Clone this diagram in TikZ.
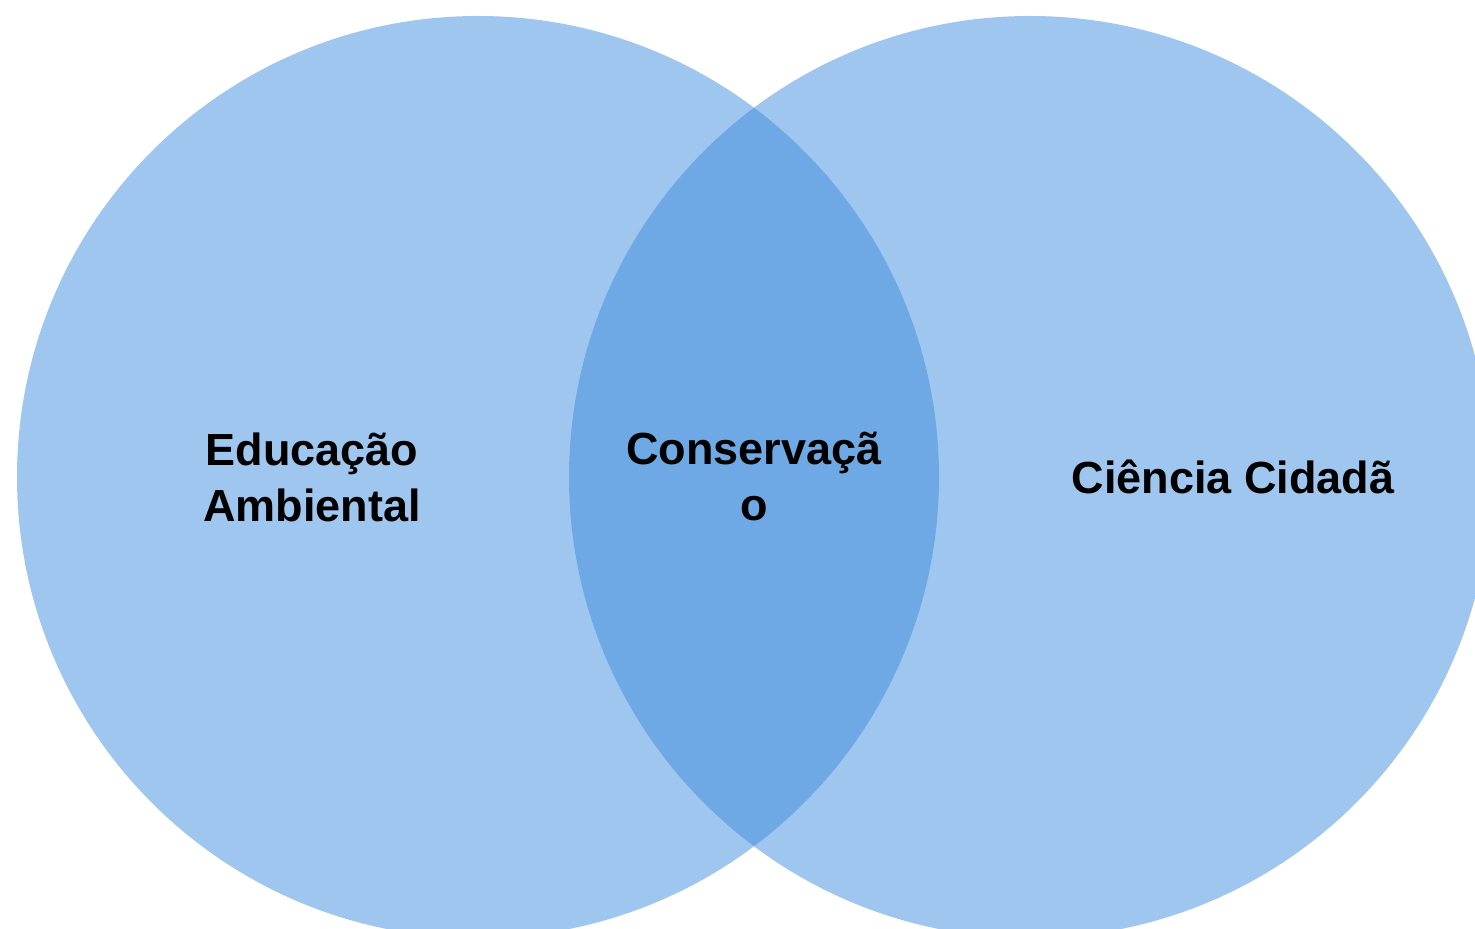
\documentclass[tikz,border=0pt]{standalone}
\usepackage{fontspec}
\setmainfont{Liberation Sans}
\usepackage{tikz}
\definecolor{venn}{RGB}{63, 141, 221}

\begin{document}
\begin{tikzpicture}[x=0.5pt, y=-0.5pt,
    set/.style={fill=venn, fill opacity=0.5},
    label/.style={align=center, font=\bfseries\fontsize{22.5}{28}\selectfont, text=black}]

    \useasboundingbox (0, 0) rectangle (1475, 929);
    \begin{scope}
        \clip (0, 0) rectangle (1475, 929);
        \fill[set] (478, 477) circle (461);
        \fill[set] (1030, 477) circle (461);
    \end{scope}

    \node[label] (educacao) at (312, 477) {Educação\\Ambiental};
    \node[label] (conservacao) at (754, 477) {Conservaçã\\o};
    \node[label] (ciencia) at (1233, 477) {Ciência Cidadã};

\end{tikzpicture}
\end{document}
